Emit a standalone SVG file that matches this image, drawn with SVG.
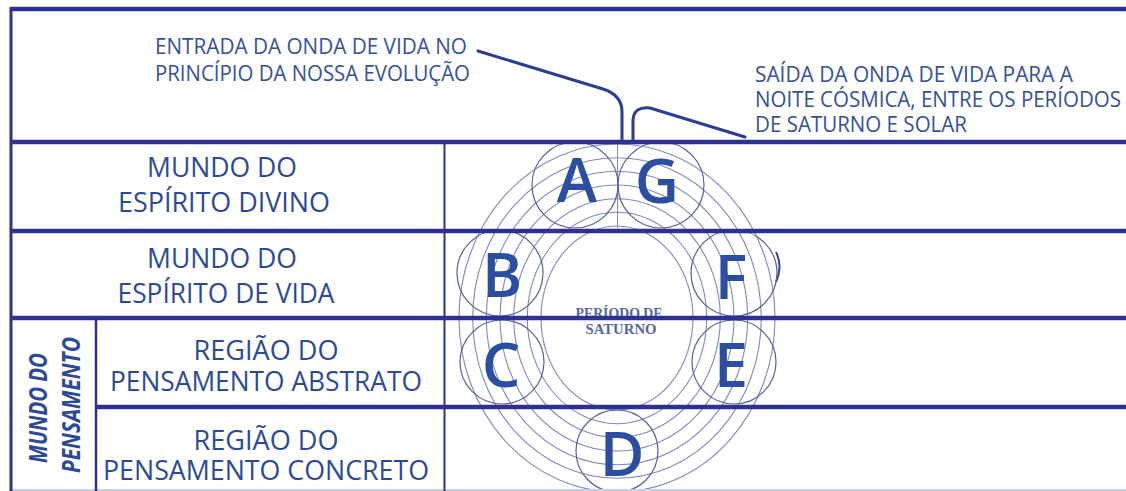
<svg xmlns="http://www.w3.org/2000/svg" width="1126" height="491" viewBox="0 0 1126 491">
<style>
.lbl{font-family:"Open Sans","Liberation Sans",sans-serif;fill:#2c4a9a;text-anchor:middle}
.note{font-family:"Open Sans","Liberation Sans",sans-serif;fill:#34519c;font-size:21px}
.cell{font-size:27px}
.rot{font-family:"Open Sans","Liberation Sans",sans-serif;font-weight:700;font-style:italic;fill:#2c4a9a;font-size:25px;text-anchor:middle}
.let{font-family:"Open Sans","Liberation Sans",sans-serif;font-weight:600;font-size:61px;fill:#2b4ea2;text-anchor:middle}
.band{fill:none;stroke:#8089c0;stroke-width:1.1}
.circ{fill:none;stroke:#56619f;stroke-width:1.2}
.per{font-family:"Liberation Serif",serif;font-weight:700;font-size:14.5px;fill:#5566a8;text-anchor:middle}
.hl{stroke:#2e3192;stroke-width:4.5;fill:none}
.vl{stroke:#2e3192;fill:none}
.conn{stroke:#2b3d94;stroke-width:3;fill:none;stroke-linecap:round;stroke-linejoin:round}
</style>
<rect width="1126" height="491" fill="#ffffff"/>

<g id="saturn-period-art">
  <g id="band">
    <ellipse class="band" cx="617" cy="318" rx="76" ry="92"/>
    <ellipse class="band" cx="617" cy="318" rx="89.7" ry="105.7"/>
    <ellipse class="band" cx="617" cy="318" rx="103.3" ry="119.3"/>
    <ellipse class="band" cx="617" cy="318" rx="117" ry="133"/>
    <ellipse class="band" cx="617" cy="318" rx="130.7" ry="146.7"/>
    <ellipse class="band" cx="617" cy="318" rx="144.3" ry="160.3"/>
    <ellipse class="band" cx="617" cy="318" rx="158" ry="174"/>
    <line x1="617.5" y1="142" x2="617.5" y2="228" stroke="#7d88bf" stroke-width="1"/>
    <path d="M776 252 Q783 266 776 282" fill="none" stroke="#3a4a9a" stroke-width="2"/>
  </g>
  <g id="period-A"><circle class="circ" cx="575" cy="185" r="43"/><text class="let" x="577" y="202">A</text></g>
  <g id="period-G"><circle class="circ" cx="661" cy="185" r="43"/><text class="let" x="657" y="203">G</text></g>
  <g id="period-B"><circle class="circ" cx="500" cy="273" r="43"/><text class="let" x="502" y="297">B</text></g>
  <g id="period-F"><circle class="circ" cx="734" cy="273" r="43"/><text class="let" x="731" y="299">F</text></g>
  <g id="period-C"><circle class="circ" cx="502" cy="362" r="42"/><text class="let" x="501" y="387">C</text></g>
  <g id="period-E"><circle class="circ" cx="734" cy="362" r="42"/><text class="let" x="731" y="387">E</text></g>
  <g id="period-D"><circle class="circ" cx="617" cy="451" r="41"/><text class="let" x="622" y="476">D</text></g>
  <g id="period-label">
    <text class="per" x="619" y="318" textLength="87" lengthAdjust="spacingAndGlyphs">PERÍODO DE</text>
    <text class="per" x="621" y="334" textLength="71" lengthAdjust="spacingAndGlyphs">SATURNO</text>
  </g>
</g>

<g id="grid">
  <line class="hl" x1="10" y1="9" x2="1126" y2="9"/>
  <line class="hl" x1="10" y1="142" x2="1126" y2="142"/>
  <line class="hl" x1="10" y1="231" x2="1126" y2="231"/>
  <line class="hl" x1="10" y1="318" x2="1126" y2="318"/>
  <line class="hl" x1="96" y1="407" x2="1126" y2="407"/>
  <line x1="10" y1="490" x2="1126" y2="490" stroke="#c9cdeb" stroke-width="2"/>
  <line class="vl" x1="11" y1="7" x2="11" y2="491" stroke-width="3"/>
  <line class="vl" x1="444.5" y1="142" x2="444.5" y2="491" stroke-width="2"/>
  <line class="vl" x1="96" y1="318" x2="96" y2="491" stroke-width="2.5"/>
</g>

<g id="note-entrada">
  <text class="note" x="155" y="54" textLength="312" lengthAdjust="spacingAndGlyphs">ENTRADA DA ONDA DE VIDA NO</text>
  <text class="note" x="155" y="81" textLength="315" lengthAdjust="spacingAndGlyphs">PRINCÍPIO DA NOSSA EVOLUÇÃO</text>
</g>
<g id="note-saida">
  <text class="note" x="755" y="82" textLength="318" lengthAdjust="spacingAndGlyphs">SAÍDA DA ONDA DE VIDA PARA A</text>
  <text class="note" x="755" y="107" textLength="366" lengthAdjust="spacingAndGlyphs">NOITE CÓSMICA, ENTRE OS PERÍODOS</text>
  <text class="note" x="755" y="132" textLength="212" lengthAdjust="spacingAndGlyphs">DE SATURNO E SOLAR</text>
</g>

<g id="row-espirito-divino">
  <text class="lbl cell" x="222" y="177" textLength="150" lengthAdjust="spacingAndGlyphs">MUNDO DO</text>
  <text class="lbl cell" x="224" y="212" textLength="212" lengthAdjust="spacingAndGlyphs">ESPÍRITO DIVINO</text>
</g>
<g id="row-espirito-vida">
  <text class="lbl cell" x="222" y="268" textLength="150" lengthAdjust="spacingAndGlyphs">MUNDO DO</text>
  <text class="lbl cell" x="226" y="303" textLength="217" lengthAdjust="spacingAndGlyphs">ESPÍRITO DE VIDA</text>
</g>
<g id="row-pensamento-abstrato">
  <text class="lbl cell" x="266" y="360" textLength="145" lengthAdjust="spacingAndGlyphs">REGIÃO DO</text>
  <text class="lbl cell" x="266" y="391" textLength="312" lengthAdjust="spacingAndGlyphs">PENSAMENTO ABSTRATO</text>
</g>
<g id="row-pensamento-concreto">
  <text class="lbl cell" x="266" y="450" textLength="145" lengthAdjust="spacingAndGlyphs">REGIÃO DO</text>
  <text class="lbl cell" x="266" y="480" textLength="326" lengthAdjust="spacingAndGlyphs">PENSAMENTO CONCRETO</text>
</g>
<g id="mundo-do-pensamento">
  <text class="rot" transform="translate(47 408) rotate(-90)" x="0" y="0" textLength="110" lengthAdjust="spacingAndGlyphs">MUNDO DO</text>
  <text class="rot" transform="translate(80 405) rotate(-90)" x="0" y="0" textLength="136" lengthAdjust="spacingAndGlyphs">PENSAMENTO</text>
</g>

<g id="connectors">
  <path class="conn" d="M478 51 L603 89 Q622 95 622 112 L622 141"/>
  <path class="conn" d="M633 141 L633 120 Q634 106 650 108 L745 137"/>
</g>
</svg>
